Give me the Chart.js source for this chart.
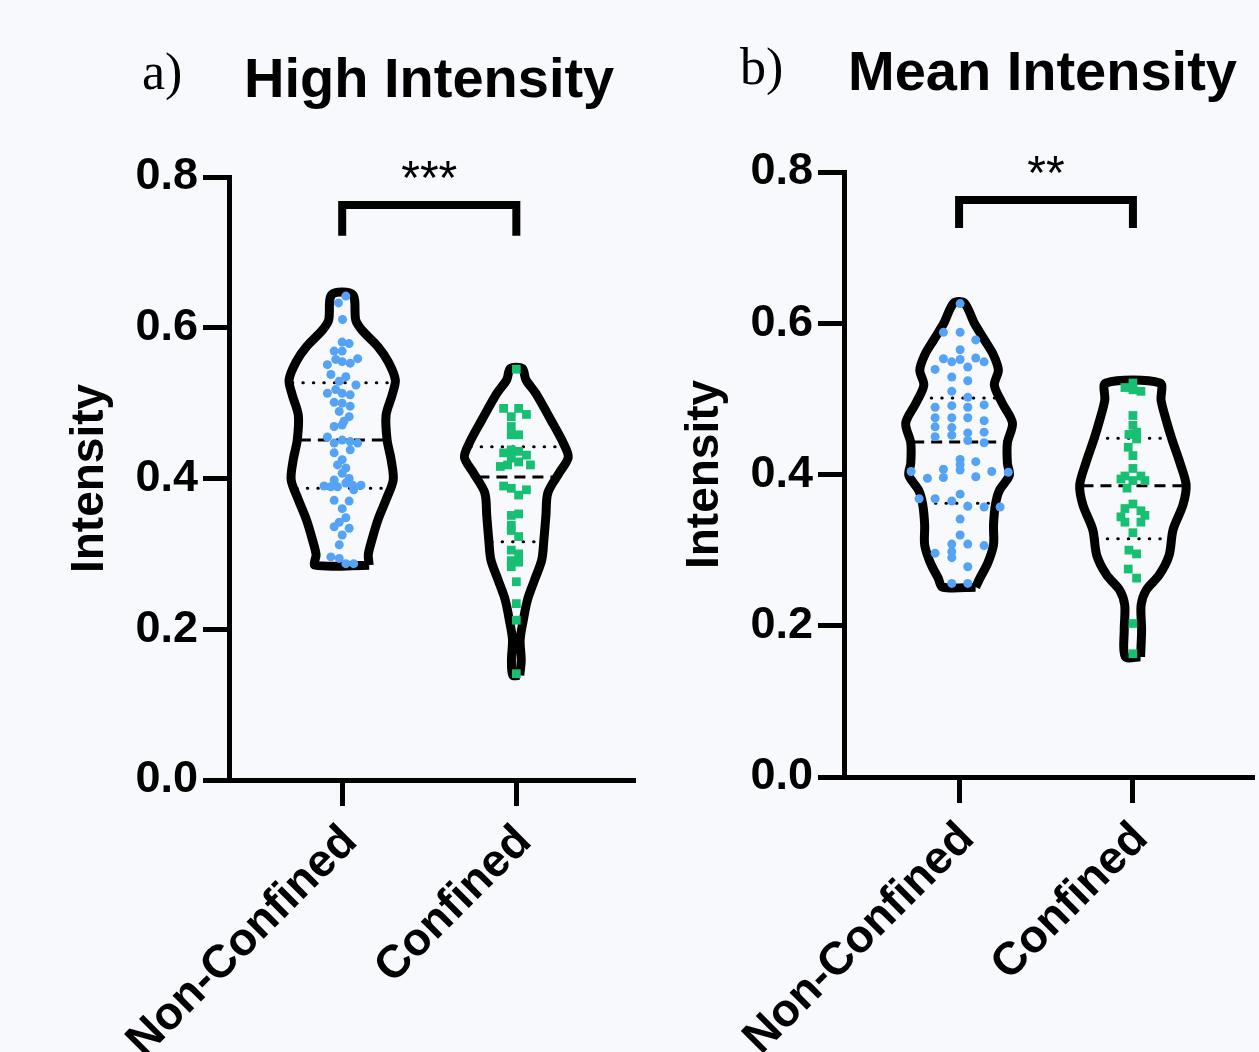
<!DOCTYPE html>
<html>
<head>
<meta charset="utf-8">
<script src="https://cdn.jsdelivr.net/npm/chart.js@4.4.1/dist/chart.umd.min.js"></script>
<style>
  body { margin: 0; background: #f8f9fd; width: 1259px; height: 1052px; position: relative; overflow: hidden; }
  canvas { position: absolute; top: 0; }
  .lbl { position: absolute; font-family: "Liberation Serif", serif; font-size: 52px; line-height: 52px; color: #000; white-space: nowrap; }
  .ttl { position: absolute; font-family: "Liberation Sans", Arial, sans-serif; font-weight: bold; font-size: 56px; line-height: 56px; color: #000; white-space: nowrap; }
</style>
</head>
<body>
<div class="lbl" style="left:142px; top:46px;">a)</div>
<div class="ttl" style="left:244px; top:50px;">High Intensity</div>
<div class="lbl" style="left:740px; top:41px;">b)</div>
<div class="ttl" style="left:848px; top:43px;">Mean Intensity</div>
<canvas id="chartA" width="640" height="1052" style="left:0px"></canvas>
<canvas id="chartB" width="644" height="1052" style="left:615px"></canvas>
<script>
// categories and ticks
var groups = ['Non-Confined', 'Confined'];
var yTicks = [0, 0.2, 0.4, 0.6, 0.8];

// a) High Intensity - points (value, horizontal spread)
var highNonConfY = [0.642,0.633,0.611,0.581,0.579,0.569,0.569,0.559,0.551,0.558,0.555,0.553,0.538,0.535,0.529,0.524,0.513,0.518,0.513,0.511,0.501,0.500,0.496,0.489,0.482,0.476,0.469,0.471,0.455,0.447,0.451,0.449,0.447,0.438,0.434,0.425,0.418,0.414,0.407,0.398,0.400,0.390,0.389,0.389,0.394,0.391,0.391,0.385,0.371,0.370,0.360,0.348,0.342,0.336,0.334,0.325,0.312,0.296,0.294,0.287,0.287];
var highNonConfX = [0.021,-0.021,0.002,0,0.04,-0.046,0,0.089,-0.085,-0.037,0,0.046,-0.065,0.021,-0.017,0.079,-0.085,-0.037,0,0.046,-0.046,0,0.046,-0.017,0.04,0.01,-0.046,0,-0.085,-0.046,0,0.046,0.089,0.046,-0.046,0,-0.027,0.021,0,-0.046,0.04,-0.104,-0.065,-0.027,0.021,0.06,0.108,0.066,-0.046,0.04,0,0.021,-0.017,-0.046,0.04,0,-0.017,-0.065,-0.017,0.021,0.066];
var highConfY = [0.545,0.493,0.493,0.482,0.485,0.469,0.458,0.458,0.434,0.438,0.436,0.431,0.427,0.416,0.418,0.422,0.418,0.390,0.387,0.385,0.378,0.351,0.353,0.338,0.331,0.323,0.305,0.300,0.291,0.289,0.283,0.263,0.234,0.212,0.141];
var highConfX = [0,-0.073,0.013,-0.029,0.058,-0.029,-0.029,0.013,-0.073,-0.029,0.013,0.058,-0.029,-0.092,-0.05,0.013,0.081,-0.073,-0.029,0.058,0.013,-0.029,0.013,-0.029,-0.029,0.013,-0.029,0.013,-0.029,0.013,-0.029,0,0,0,0];

// a) violin outlines: levels (bottom to top) and half widths
var highNonConfShapeY = [0.285,0.299,0.318,0.345,0.372,0.398,0.425,0.451,0.484,0.511,0.531,0.555,0.575,0.597,0.610,0.644];
var highNonConfShapeW = [0.155,0.15,0.17,0.205,0.252,0.293,0.281,0.258,0.252,0.287,0.305,0.264,0.205,0.113,0.078,0.06];
var highConfShapeY = [0.139,0.159,0.186,0.212,0.239,0.265,0.292,0.318,0.351,0.381,0.407,0.428,0.447,0.477,0.513,0.531,0.546];
var highConfShapeW = [0.02,0.028,0.022,0.04,0.064,0.104,0.146,0.158,0.17,0.181,0.245,0.298,0.27,0.2,0.112,0.055,0.034];

// a) quartiles [Q1, median, Q3]
var highNonConfQ = [0.387, 0.451, 0.527];
var highConfQ = [0.316, 0.402, 0.442];

// b) Mean Intensity - points
var meanNonConfY = [0.626,0.588,0.588,0.578,0.565,0.553,0.549,0.552,0.554,0.549,0.539,0.542,0.529,0.524,0.510,0.502,0.489,0.491,0.489,0.492,0.475,0.475,0.475,0.471,0.463,0.462,0.455,0.456,0.450,0.452,0.445,0.442,0.420,0.413,0.406,0.417,0.407,0.396,0.404,0.395,0.397,0.404,0.403,0.368,0.368,0.365,0.374,0.358,0.357,0.357,0.341,0.320,0.308,0.308,0.306,0.296,0.298,0.290,0.278,0.256,0.256];
var meanNonConfX = [0.006,-0.09,0.006,0.096,0.006,-0.09,-0.042,0.006,0.096,0.144,-0.138,0.05,-0.042,0.05,-0.042,0.05,-0.138,-0.042,0.05,0.144,-0.138,-0.042,0.05,0.144,-0.138,-0.042,0.05,0.144,-0.138,-0.042,0.05,0.144,0.006,0.006,0.006,0.096,-0.09,-0.09,-0.276,-0.182,0.096,0.188,0.283,-0.23,-0.138,-0.042,0.006,0.05,0.144,0.236,0.006,0.006,-0.042,0.05,0.144,-0.138,-0.042,-0.042,0.05,-0.042,0.05];
var meanConfY = [0.521,0.515,0.512,0.510,0.478,0.465,0.453,0.456,0.447,0.436,0.425,0.408,0.398,0.398,0.392,0.394,0.392,0.382,0.361,0.355,0.352,0.344,0.346,0.337,0.337,0.323,0.300,0.295,0.275,0.263,0.203,0.163];
var meanConfX = [0,-0.046,0,0.046,0,0,-0.023,0.021,0.021,-0.027,0,0,-0.046,0.046,0,-0.069,0.069,-0.034,0,-0.046,0.046,-0.069,0.069,-0.046,0.046,0,-0.023,0.021,-0.027,0.021,0,0];

// b) violin outlines
var meanNonConfShapeY = [0.251,0.263,0.283,0.307,0.333,0.360,0.379,0.399,0.415,0.442,0.468,0.494,0.518,0.538,0.558,0.578,0.600,0.627];
var meanNonConfShapeW = [0.095,0.12,0.165,0.198,0.198,0.209,0.232,0.289,0.278,0.278,0.307,0.249,0.203,0.226,0.198,0.146,0.088,0.03];
var meanConfShapeY = [0.159,0.194,0.227,0.247,0.267,0.293,0.327,0.360,0.386,0.415,0.446,0.472,0.498,0.521];
var meanConfShapeW = [0.044,0.05,0.047,0.076,0.151,0.208,0.231,0.288,0.306,0.271,0.225,0.191,0.162,0.156];

// b) quartiles
var meanNonConfQ = [0.362, 0.443, 0.501];
var meanConfQ = [0.315, 0.385, 0.448];

var blue = '#55a3f6';
var green = '#17bf72';

Chart.defaults.font.family = '"Liberation Sans", Arial, sans-serif';
Chart.defaults.font.weight = 'bold';
Chart.defaults.color = '#000';

function pointsData(xs, ys, center) {
    return ys.map((v, i) => ({ x: center + xs[i], y: v }));
}

function outline(levels, widths, center) {
    var right = levels.map((v, i) => ({ x: center + widths[i], y: v }));
    var left = levels.map((v, i) => ({ x: center - widths[i], y: v })).reverse();
    var pts = right.concat(left);
    pts.push(pts[0]);
    return pts;
}

function widthAt(levels, widths, v) {
    for (var i = 0; i < levels.length - 1; i++) {
        if (v >= levels[i] && v <= levels[i + 1]) {
            var t = (v - levels[i]) / (levels[i + 1] - levels[i]);
            return widths[i] + t * (widths[i + 1] - widths[i]);
        }
    }
    return widths[0];
}

function quartileSets(levels, widths, q, center) {
    return q.map((v, i) => {
        var w = widthAt(levels, widths, v) - 0.015;
        return {
            type: 'scatter',
            data: [{ x: center - w, y: v }, { x: center + w, y: v }],
            showLine: true,
            borderColor: '#000',
            borderWidth: 3,
            borderCapStyle: i == 1 ? 'butt' : 'round',
            borderDash: i == 1 ? [11, 7] : [0.5, 10],
            pointRadius: 0,
            order: 1
        };
    });
}

var starsPlugin = {
    id: 'stars',
    afterDatasetsDraw(chart, args, opts) {
        var ctx = chart.ctx;
        var x = chart.scales.x, y = chart.scales.y;
        ctx.save();
        ctx.font = 'normal 48px "Liberation Sans", Arial, sans-serif';
        ctx.fillStyle = '#000';
        ctx.textAlign = 'center';
        ctx.textBaseline = 'alphabetic';
        ctx.fillText(opts.text, x.getPixelForValue(0.5), y.getPixelForValue(opts.y));
        ctx.restore();
    }
};

function drawPanel(id, p) {
    var element = document.getElementById(id).getContext('2d');
    var datasets = [
        {
            type: 'scatter', data: pointsData(p.ncX, p.ncY, 0),
            pointStyle: 'circle', pointRadius: 4.5, pointBackgroundColor: blue, pointBorderWidth: 0, order: 0
        },
        {
            type: 'scatter', data: pointsData(p.cX, p.cY, 1),
            pointStyle: 'rect', pointRadius: 6.2, pointBackgroundColor: green, pointBorderWidth: 0, order: 0
        },
        {
            type: 'scatter', data: outline(p.ncShapeY, p.ncShapeW, 0), showLine: true, tension: 0.3,
            borderColor: '#000', borderWidth: 9, borderJoinStyle: 'round', pointRadius: 0, fill: false, order: 2
        },
        {
            type: 'scatter', data: outline(p.cShapeY, p.cShapeW, 1), showLine: true, tension: 0.3,
            borderColor: '#000', borderWidth: 9, borderJoinStyle: 'round', pointRadius: 0, fill: false, order: 2
        },
        {
            type: 'scatter',
            data: [{ x: 0, y: p.bracket[0] }, { x: 0, y: p.bracket[1] }, { x: 1, y: p.bracket[1] }, { x: 1, y: p.bracket[0] }],
            showLine: true, borderColor: '#000', borderWidth: 8, borderJoinStyle: 'miter', borderCapStyle: 'butt',
            pointRadius: 0, order: 2
        }
    ].concat(quartileSets(p.ncShapeY, p.ncShapeW, p.ncQ, 0))
     .concat(quartileSets(p.cShapeY, p.cShapeW, p.cQ, 1));

    return new Chart(element, {
        type: 'scatter',
        data: { datasets: datasets },
        plugins: [starsPlugin],
        options: {
            responsive: false,
            animation: false,
            events: [],
            layout: { padding: { top: p.top, right: 7, left: 0, bottom: 0 } },
            plugins: {
                legend: { display: false },
                tooltip: { enabled: false },
                stars: { text: p.stars, y: 0.778 }
            },
            scales: {
                x: {
                    type: 'linear', min: p.xMin, max: p.xMax,
                    afterBuildTicks: s => { s.ticks = [{ value: 0 }, { value: 1 }]; },
                    afterFit: s => { s.height = p.xHeight; },
                    border: { display: true, color: '#000', width: 5 },
                    grid: { drawOnChartArea: false, drawTicks: true, tickLength: 26, color: '#000', lineWidth: 5 },
                    ticks: {
                        autoSkip: false, maxRotation: 45, minRotation: 45, padding: 9, labelOffset: 8,
                        font: { size: 46, weight: 'bold' }, color: '#000',
                        callback: v => groups[v]
                    }
                },
                y: {
                    min: 0, max: 0.8,
                    afterBuildTicks: s => { s.ticks = yTicks.map(v => ({ value: v })); },
                    afterFit: s => { s.width = 229; },
                    border: { display: true, color: '#000', width: 5 },
                    grid: { drawOnChartArea: false, drawTicks: true, tickLength: 26, color: '#000', lineWidth: 5 },
                    ticks: {
                        padding: 5, font: { size: 45, weight: 'bold' }, color: '#000',
                        callback: v => Number(v).toFixed(1)
                    },
                    title: {
                        display: true, text: 'Intensity', color: '#000',
                        font: { size: 46, weight: 'bold' }, padding: { top: 63, bottom: 0 }
                    }
                }
            }
        }
    });
}

drawPanel('chartA', {
    ncX: highNonConfX, ncY: highNonConfY, cX: highConfX, cY: highConfY,
    ncShapeY: highNonConfShapeY, ncShapeW: highNonConfShapeW,
    cShapeY: highConfShapeY, cShapeW: highConfShapeW,
    ncQ: highNonConfQ, cQ: highConfQ,
    bracket: [0.722, 0.763], stars: '***',
    top: 177, xHeight: 272, xMin: -0.65, xMax: 1.67
});

drawPanel('chartB', {
    ncX: meanNonConfX, ncY: meanNonConfY, cX: meanConfX, cY: meanConfY,
    ncShapeY: meanNonConfShapeY, ncShapeW: meanNonConfShapeW,
    cShapeY: meanConfShapeY, cShapeW: meanConfShapeW,
    ncQ: meanNonConfQ, cQ: meanConfQ,
    bracket: [0.726, 0.763], stars: '**',
    top: 172, xHeight: 275, xMin: -0.662, xMax: 1.685
});
</script>
</body>
</html>
